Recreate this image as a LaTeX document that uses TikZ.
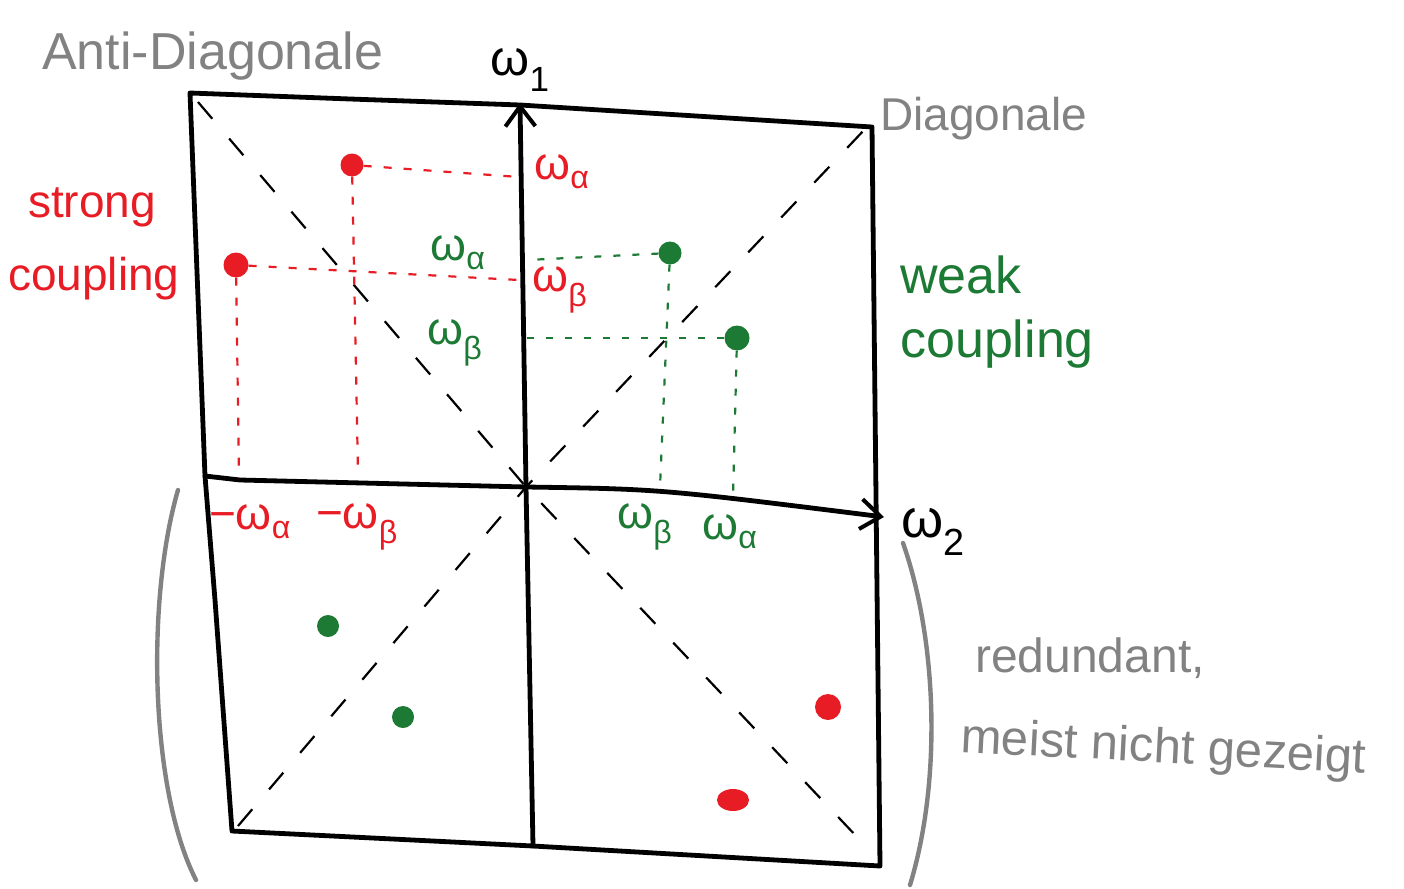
\documentclass[tikz,border=0pt]{standalone}
\usepackage{fontspec}
\setmainfont{Liberation Sans}
\usetikzlibrary{arrows.meta,shapes.geometric}
\definecolor{hred}{RGB}{232,28,36}
\definecolor{hgreen}{RGB}{28,122,52}
\definecolor{hgray}{RGB}{130,130,130}
\newcommand{\wsub}[1]{ω\textsubscript{#1}}
\begin{document}
\begin{tikzpicture}[x=1pt,y=-1pt,
 frame/.style={line width=4.8pt, line join=round, line cap=round},
 axis/.style={line width=4.8pt, line cap=round, line join=round, -{Straight Barb[length=20pt,width=30pt,line width=4pt]}},
 diag/.style={line width=2.2pt, dash pattern=on 22pt off 26pt},
 rproj/.style={hred, line width=2.2pt, dash pattern=on 8pt off 12pt},
 gproj/.style={hgreen, line width=2.2pt, dash pattern=on 7pt off 12pt},
 rdot/.style={circle, fill=hred, inner sep=0pt, minimum size=24pt},
 gdot/.style={circle, fill=hgreen, inner sep=0pt, minimum size=22pt},
 lab/.style={inner sep=0pt, font=\fontsize{46}{50}\selectfont},
 note/.style={inner sep=0pt, anchor=base west},
 paren/.style={hgray, line width=4.4pt, line cap=round},
]
\useasboundingbox (0,0) rectangle (1404,888);

% frame
\coordinate (TL) at (190,93);
\coordinate (TR) at (872,127);
\coordinate (BR) at (880,866);
\coordinate (BL) at (232,831);
\draw[frame] (TL) -- (350,99) -- (520,105) -- (TR) -- (BR) -- (533,846) -- (BL) -- (215,600) -- (205,476) -- cycle;

% diagonals
\coordinate (O) at (526,487);
\coordinate (DBL) at (238,826);
\coordinate (DTR) at (866,128);
\coordinate (ATL) at (198,102);
\coordinate (ABR) at (858,838);
\draw[diag] (DBL) -- (O) -- (DTR);
\draw[diag] (ATL) -- (O) -- (ABR);

% axes
\coordinate (Ybot) at (533,846);
\coordinate (Ytop) at (520,103);
\coordinate (Xleft) at (205,476);
\coordinate (Xright) at (884,517);
\draw[axis] (Ybot) -- (O) -- (Ytop);
\draw[axis] (Xleft) -- (240,480) -- (O) .. controls (660,489) .. (Xright);
\node[lab, font=\fontsize{50}{54}\selectfont] (w1) at (520,70) {\wsub{1}};
\node[lab, font=\fontsize{54}{58}\selectfont] (w2) at (933,532) {\wsub{2}};

% red points and projections
\node[rdot, minimum size=23pt] (R1) at (352,165) {};
\node[rdot, minimum size=25pt] (R2) at (236,265) {};
\coordinate (R1y) at (519,177);
\coordinate (R1x) at (358,473);
\coordinate (R2y) at (519,280);
\coordinate (R2x) at (239,478);
\draw[rproj] (R1) -- (R1y);
\draw[rproj] (R1) -- (R1x);
\draw[rproj] (R2) -- (R2y);
\draw[rproj] (R2) -- (R2x);
\node[lab, text=hred] (ra) at (562,172) {\wsub{α}};
\node[lab, text=hred] (rb) at (560,290) {\wsub{β}};
\node[lab, text=hred] (mra) at (250,522) {−\wsub{α}};
\node[lab, text=hred] (mrb) at (357,527) {−\wsub{β}};

% green points and projections
\node[gdot, minimum size=23pt] (G1) at (670,253) {};
\node[gdot, minimum size=25pt] (G2) at (737,338) {};
\coordinate (G1y) at (527,260);
\coordinate (G1x) at (660,487);
\coordinate (G2y) at (527,338);
\coordinate (G2x) at (733,497);
\draw[gproj] (G1) -- (G1y);
\draw[gproj] (G1) -- (G1x);
\draw[gproj] (G2) -- (G2y);
\draw[gproj] (G2) -- (G2x);
\node[lab, text=hgreen] (ga) at (458,253) {\wsub{α}};
\node[lab, text=hgreen] (gb) at (455,343) {\wsub{β}};
\node[lab, text=hgreen] (gbx) at (645,527) {\wsub{β}};
\node[lab, text=hgreen] (gax) at (730,532) {\wsub{α}};

% redundant points
\node[gdot] (G3) at (328,626) {};
\node[gdot] (G4) at (403,717) {};
\node[rdot, minimum size=26pt] (R3) at (828,707) {};
\node[ellipse, fill=hred, inner sep=0pt, minimum width=32pt, minimum height=22pt] (R4) at (733,800) {};

% parentheses
\draw[paren] (178,490) .. controls (146,600) and (150,790) .. (196,880);
\draw[paren] (903,543) .. controls (937,640) and (942,780) .. (910,885);

% texts
\node[note, text=hgray, font=\fontsize{52}{56}\selectfont] (anti) at (42,70) {Anti-Diagonale};
\node[note, text=hgray, font=\fontsize{46}{50}\selectfont] (diag) at (880,130) {Diagonale};
\node[note, text=hred, font=\fontsize{46}{50}\selectfont] (strong) at (28,217) {strong};
\node[note, text=hred, font=\fontsize{46}{50}\selectfont] (scoup) at (8,290) {coupling};
\node[note, text=hgreen, font=\fontsize{52}{56}\selectfont] (weak) at (900,293) {weak};
\node[note, text=hgreen, font=\fontsize{52}{56}\selectfont] (wcoup) at (900,357) {coupling};
\node[note, text=hgray, font=\fontsize{48}{52}\selectfont] (redund) at (975,672) {redundant,};
\node[note, text=hgray, font=\fontsize{49}{52}\selectfont, rotate=-3] (meist) at (960,752) {meist nicht gezeigt};
\end{tikzpicture}
\end{document}
